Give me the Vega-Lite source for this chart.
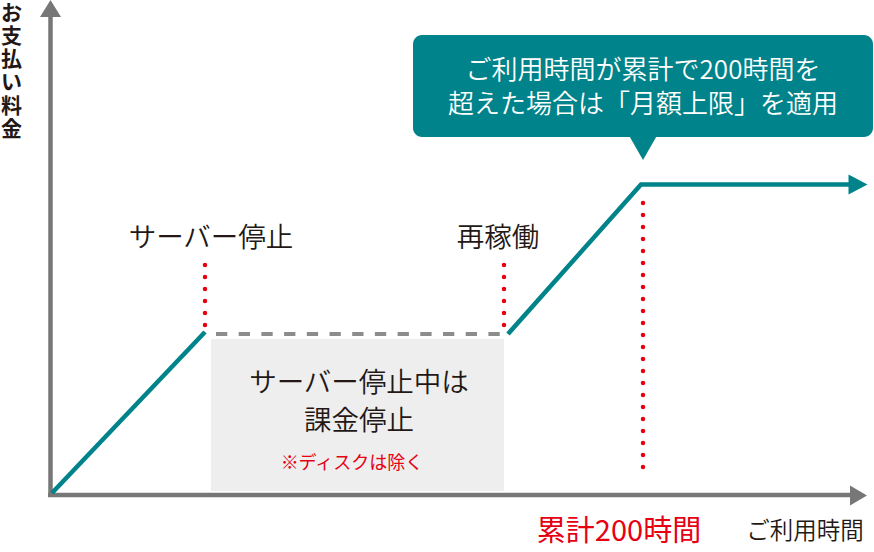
{
  "$schema": "https://vega.github.io/schema/vega-lite/v6.json",
  "width": 874,
  "height": 552,
  "padding": 0,
  "autosize": {"type": "fit", "contains": "padding"},
  "config": {"view": {"stroke": null}, "text": {"font": "Noto Sans CJK JP"}},
  "encoding": {
    "x": {"field": "x", "type": "quantitative", "scale": {"domain": [0, 874], "nice": false, "zero": false}, "axis": null},
    "y": {"field": "y", "type": "quantitative", "scale": {"domain": [0, 552], "nice": false, "zero": false, "reverse": true}, "axis": null}
  },
  "layer": [
    {
      "data": {"values": [{"x": 413, "x2": 873, "y": 35, "y2": 137}]},
      "mark": {"type": "rect", "fill": "#00838a", "cornerRadius": 9},
      "encoding": {"x2": {"field": "x2"}, "y2": {"field": "y2"}}
    },
    {
      "data": {"values": [{"x": 643, "y": 151}]},
      "mark": {"type": "point", "filled": true, "fill": "#00838a", "strokeWidth": 0, "opacity": 1, "size": 784, "shape": "M-1,-1.1L1,-1.1L0,0.64Z"}
    },
    {
      "data": {"values": [{"x": 211, "x2": 504, "y": 339, "y2": 491}]},
      "mark": {"type": "rect", "fill": "#eeeeee"},
      "encoding": {"x2": {"field": "x2"}, "y2": {"field": "y2"}}
    },
    {
      "data": {"values": [
        {"x": 50.5, "y": 497, "x2": 50.5, "y2": 14},
        {"x": 48, "y": 495, "x2": 852, "y2": 495}
      ]},
      "mark": {"type": "rule", "stroke": "#777777", "strokeWidth": 4.5, "strokeCap": "butt"},
      "encoding": {"x2": {"field": "x2"}, "y2": {"field": "y2"}}
    },
    {
      "data": {"values": [{"x": 50.5, "y": 10.5}]},
      "mark": {"type": "point", "filled": true, "fill": "#777777", "strokeWidth": 0, "opacity": 1, "size": 441, "shape": "M-1,0.62L1,0.62L0,-1Z"}
    },
    {
      "data": {"values": [{"x": 857, "y": 495.5}]},
      "mark": {"type": "point", "filled": true, "fill": "#777777", "strokeWidth": 0, "opacity": 1, "size": 400, "shape": "M-0.7,-1L1,0L-0.7,1Z"}
    },
    {
      "data": {"values": [{"x": 216, "x2": 502, "y": 334}]},
      "mark": {"type": "rule", "stroke": "#8c8c8c", "strokeWidth": 4, "strokeDash": [11.3, 11.4], "strokeCap": "butt"},
      "encoding": {"x2": {"field": "x2"}}
    },
    {
      "data": {"values": [
        {"x": 205, "y": 265, "y2": 325},
        {"x": 504, "y": 265, "y2": 325},
        {"x": 643, "y": 203, "y2": 478}
      ]},
      "mark": {"type": "rule", "stroke": "#e60012", "strokeWidth": 4.5, "strokeDash": [0.1, 11.9], "strokeCap": "round"},
      "encoding": {"y2": {"field": "y2"}}
    },
    {
      "data": {"values": [
        {"seg": "a", "o": 1, "x": 52, "y": 493},
        {"seg": "a", "o": 2, "x": 205, "y": 332},
        {"seg": "b", "o": 1, "x": 508, "y": 334},
        {"seg": "b", "o": 2, "x": 641, "y": 184.5},
        {"seg": "b", "o": 3, "x": 852, "y": 184.5}
      ]},
      "mark": {"type": "line", "stroke": "#00838a", "strokeWidth": 4.5, "strokeCap": "butt", "strokeJoin": "miter"},
      "encoding": {"detail": {"field": "seg"}, "order": {"field": "o"}}
    },
    {
      "data": {"values": [{"x": 857.5, "y": 184.5}]},
      "mark": {"type": "point", "filled": true, "fill": "#00838a", "strokeWidth": 0, "opacity": 1, "size": 400, "shape": "M-0.9,-1L1,0L-0.9,1Z"}
    },
    {
      "data": {"values": [
        {"x": 643, "y": 71, "t": "ご利用時間が累計で200時間を"},
        {"x": 643, "y": 105, "t": "超えた場合は「月額上限」を適用"}
      ]},
      "mark": {"type": "text", "fill": "#ffffff", "fontSize": 26, "fontWeight": 350, "baseline": "middle", "align": "center"},
      "encoding": {"text": {"field": "t"}}
    },
    {
      "data": {"values": [
        {"x": 211, "y": 239, "t": "サーバー停止"},
        {"x": 498, "y": 239, "t": "再稼働"},
        {"x": 359, "y": 384, "t": "サーバー停止中は"},
        {"x": 359, "y": 422, "t": "課金停止"}
      ]},
      "mark": {"type": "text", "fill": "#231815", "fontSize": 27.5, "fontWeight": 350, "baseline": "middle", "align": "center"},
      "encoding": {"text": {"field": "t"}}
    },
    {
      "data": {"values": [{"x": 352, "y": 464, "t": "※ディスクは除く"}]},
      "mark": {"type": "text", "fill": "#e60012", "fontSize": 18, "baseline": "middle", "align": "center"},
      "encoding": {"text": {"field": "t"}}
    },
    {
      "data": {"values": [{"x": 619, "y": 532, "t": "累計200時間"}]},
      "mark": {"type": "text", "fill": "#e60012", "fontSize": 29, "fontWeight": 400, "baseline": "middle", "align": "center"},
      "encoding": {"text": {"field": "t"}}
    },
    {
      "data": {"values": [{"x": 805, "y": 532, "t": "ご利用時間"}]},
      "mark": {"type": "text", "fill": "#231815", "fontSize": 23.5, "fontWeight": 350, "baseline": "middle", "align": "center"},
      "encoding": {"text": {"field": "t"}}
    },
    {
      "data": {"values": [
        {"x": 11.5, "y": 14, "t": "お"},
        {"x": 11.5, "y": 37, "t": "支"},
        {"x": 11.5, "y": 60, "t": "払"},
        {"x": 11.5, "y": 83, "t": "い"},
        {"x": 11.5, "y": 107, "t": "料"},
        {"x": 11.5, "y": 130, "t": "金"}
      ]},
      "mark": {"type": "text", "fill": "#231815", "fontSize": 21, "fontWeight": "bold", "baseline": "middle", "align": "center"},
      "encoding": {"text": {"field": "t"}}
    }
  ]
}
